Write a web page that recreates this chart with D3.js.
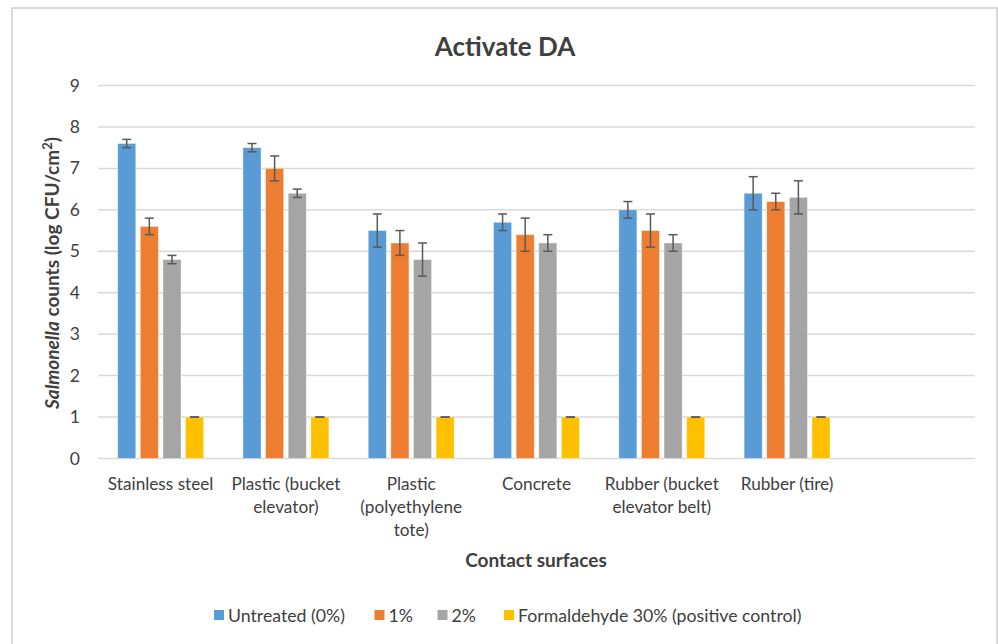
<!DOCTYPE html>
<html>
<head>
<meta charset="utf-8">
<script src="https://cdn.jsdelivr.net/npm/d3@7"></script>
<style>
  body { margin: 0; background: #fff; }
  svg text { font-family: Lato, "Open Sans", sans-serif; fill: #404040; }
</style>
</head>
<body>
<svg id="chart" width="998" height="644"></svg>
<script>
// data
var categories = ["Stainless steel", "Plastic (bucket elevator)", "Plastic (polyethylene tote)",
                  "Concrete", "Rubber (bucket elevator belt)", "Rubber (tire)", ""];
// wrapped label lines as in the original
var categoryLines = [["Stainless steel"], ["Plastic (bucket", "elevator)"], ["Plastic", "(polyethylene", "tote)"],
                     ["Concrete"], ["Rubber (bucket", "elevator belt)"], ["Rubber (tire)"], []];
var seriesNames = ["Untreated (0%)", "1%", "2%", "Formaldehyde 30% (positive control)"];
var seriesColors = ["#5B9BD5", "#ED7D31", "#A5A5A5", "#FFC000"];

var untreated = [7.6, 7.5, 5.5, 5.7, 6.0, 6.4];
var onePct = [5.6, 7.0, 5.2, 5.4, 5.5, 6.2];
var twoPct = [4.8, 6.4, 4.8, 5.2, 5.2, 6.3];
var formaldehyde = [1, 1, 1, 1, 1, 1];

var untreatedErr = [0.1, 0.1, 0.4, 0.2, 0.2, 0.4];
var onePctErr = [0.2, 0.3, 0.3, 0.4, 0.4, 0.2];
var twoPctErr = [0.1, 0.1, 0.4, 0.2, 0.2, 0.4];
var formaldehydeErr = [0, 0, 0, 0, 0, 0];

var yTicks = [0, 1, 2, 3, 4, 5, 6, 7, 8, 9];

var seriesValues = [untreated, onePct, twoPct, formaldehyde];
var seriesErrors = [untreatedErr, onePctErr, twoPctErr, formaldehydeErr];

// layout
var svg = d3.select("#chart");
var plotLeft = 98, plotRight = 975, plotTop = 85.5, plotBottom = 458.5;

// chart frame
svg.append("rect")
    .attr("x", 12).attr("y", 8)
    .attr("width", 985).attr("height", 640)
    .attr("fill", "#fff")
    .attr("stroke", "#d9d9d9")
    .attr("stroke-width", 2);

var y = d3.scaleLinear().domain([0, 9]).range([plotBottom, plotTop]);

var x0 = d3.scaleBand()
    .domain(d3.range(categories.length))
    .range([plotLeft, plotRight])
    .paddingInner(0.314)
    .paddingOuter(0.157);

var x1 = d3.scaleBand()
    .domain(d3.range(seriesNames.length))
    .range([0, x0.bandwidth()])
    .paddingInner(0.2)
    .paddingOuter(0);

// gridlines
svg.append("g").selectAll("line")
    .data(yTicks)
    .enter()
    .append("line")
    .attr("x1", plotLeft).attr("x2", plotRight)
    .attr("y1", function(d) { return y(d); })
    .attr("y2", function(d) { return y(d); })
    .attr("stroke", "#d9d9d9")
    .attr("stroke-width", 1.5);

// y axis labels
var yAxis = d3.axisLeft(y).tickValues(yTicks).tickSize(0).tickPadding(0);
var yg = svg.append("g")
    .attr("transform", "translate(80,0)")
    .call(yAxis);
yg.select(".domain").remove();
yg.selectAll("text")
    .style("font-family", "Lato, sans-serif")
    .style("font-size", "17.5px")
    .attr("fill", "#595959");

// bars
var rows = [];
for (var s = 0; s < seriesNames.length; s++) {
    for (var c = 0; c < seriesValues[s].length; c++) {
        rows.push({s: s, c: c, v: seriesValues[s][c], e: seriesErrors[s][c]});
    }
}

svg.append("g").selectAll("rect")
    .data(rows)
    .enter()
    .append("rect")
    .attr("x", function(d) { return x0(d.c) + x1(d.s); })
    .attr("y", function(d) { return y(d.v); })
    .attr("width", x1.bandwidth())
    .attr("height", function(d) { return y(0) - y(d.v); })
    .attr("fill", function(d) { return seriesColors[d.s]; })
    .attr("stroke", "#fff")
    .attr("stroke-opacity", 0.5)
    .attr("stroke-width", 0.75);

// error bars
var eg = svg.append("g")
    .attr("stroke", "#595959")
    .attr("stroke-width", 1.5);
rows.forEach(function(d) {
    var cx = x0(d.c) + x1(d.s) + x1.bandwidth() / 2;
    var top = y(d.v + d.e), bot = y(d.v - d.e);
    eg.append("line").attr("x1", cx).attr("x2", cx).attr("y1", top).attr("y2", bot);
    eg.append("line").attr("x1", cx - 4.5).attr("x2", cx + 4.5).attr("y1", top).attr("y2", top);
    eg.append("line").attr("x1", cx - 4.5).attr("x2", cx + 4.5).attr("y1", bot).attr("y2", bot);
});

// category labels
var xg = svg.append("g");
categoryLines.forEach(function(lines, i) {
    var t = xg.append("text")
        .attr("text-anchor", "middle")
        .style("font-size", "17.2px")
        .attr("fill", "#404040");
    lines.forEach(function(line, k) {
        t.append("tspan")
            .attr("x", x0(i) + x0.bandwidth() / 2)
            .attr("y", 490 + k * 23)
            .text(line);
    });
});

// title
svg.append("text")
    .attr("x", 505).attr("y", 56)
    .attr("text-anchor", "middle")
    .style("font-size", "26px")
    .style("font-weight", "bold")
    .attr("fill", "#000")
    .text("Activate DA");

// x axis title
svg.append("text")
    .attr("x", 536).attr("y", 567)
    .attr("text-anchor", "middle")
    .style("font-size", "19px")
    .style("font-weight", "bold")
    .attr("fill", "#000")
    .text("Contact surfaces");

// y axis title
var yt = svg.append("text")
    .attr("transform", "translate(59," + ((plotTop + plotBottom) / 2 + 1) + ") rotate(-90)")
    .attr("text-anchor", "middle")
    .style("font-size", "19px")
    .style("font-weight", "bold")
    .attr("fill", "#000");
yt.append("tspan").style("font-style", "italic").text("Salmonella");
yt.append("tspan").text(" counts (log CFU/cm");
yt.append("tspan").attr("dy", -7).style("font-size", "13px").text("2");
yt.append("tspan").attr("dy", 7).text(")");

// legend
var legendX = [214, 374.5, 437.5, 504];
var lg = svg.append("g");
seriesNames.forEach(function(name, i) {
    lg.append("rect")
        .attr("x", legendX[i]).attr("y", 610)
        .attr("width", 10).attr("height", 10)
        .attr("fill", seriesColors[i]);
    lg.append("text")
        .attr("x", legendX[i] + 14).attr("y", 622)
        .style("font-size", "17.7px")
        .attr("fill", "#404040")
        .text(name);
});
</script>
</body>
</html>
